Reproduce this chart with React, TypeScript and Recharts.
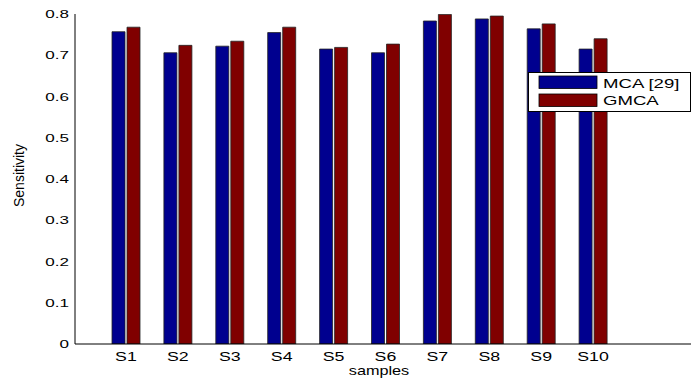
import React from 'react';
import { BarChart, Bar, XAxis, YAxis, Legend } from 'recharts';

const categories = ['S1', 'S2', 'S3', 'S4', 'S5', 'S6', 'S7', 'S8', 'S9', 'S10'];
const mcaValues = [0.757, 0.706, 0.722, 0.755, 0.715, 0.706, 0.783, 0.788, 0.764, 0.715];
const gmcaValues = [0.768, 0.724, 0.734, 0.768, 0.719, 0.727, 0.799, 0.795, 0.776, 0.740];
const yTicks = [0, 0.1, 0.2, 0.3, 0.4, 0.5, 0.6, 0.7, 0.8];
const seriesNames = ['MCA [29]', 'GMCA'];
const seriesColors = ['#00008F', '#800000'];
const xLabel = 'samples';
const yLabel = 'Sensitivity';

const data = categories.map((name, i) => ({ name, mca: mcaValues[i], gmca: gmcaValues[i] }));

const FONT = '"Liberation Sans", Arial, Helvetica, sans-serif';
const fmtY = (v: number) => (v === 0 ? '0' : v.toFixed(1));

const XTick = (props: any) => {
  const { x, y, payload } = props;
  return (
    <text transform={`translate(${x},${y + 17}) scale(1.42,1)`} textAnchor="middle" fontFamily={FONT} fontSize={12.5} fill="#000">
      {payload.value}
    </text>
  );
};

const YTick = (props: any) => {
  const { x, y, payload } = props;
  return (
    <text transform={`translate(${x - 6},${y + 4}) scale(1.55,1)`} textAnchor="end" fontFamily={FONT} fontSize={11} fill="#000">
      {fmtY(payload.value)}
    </text>
  );
};

const YLabel = (props: any) => {
  const vb = props.viewBox || { x: 0, y: 14, width: 75, height: 330 };
  const cx = vb.x + 24;
  const cy = vb.y + vb.height / 2 - 3.5;
  return (
    <text transform={`translate(${cx},${cy}) rotate(-90)`} textAnchor="middle" fontFamily={FONT} fontSize={14} fill="#000">
      {yLabel}
    </text>
  );
};

const XLabel = (props: any) => {
  const vb = props.viewBox || { x: 75, y: 344, width: 616, height: 36 };
  const cx = vb.x + vb.width / 2 - 4;
  const cy = vb.y + 31;
  return (
    <text transform={`translate(${cx},${cy}) scale(1.3,1)`} textAnchor="middle" fontFamily={FONT} fontSize={12.5} fill="#000">
      {xLabel}
    </text>
  );
};

const LegendBox = (props: any) => {
  const payload = [...(props.payload || [])].sort(
    (a: any, b: any) => seriesNames.indexOf(a.value) - seriesNames.indexOf(b.value)
  );
  return (
    <svg width={163} height={40} style={{ display: 'block' }}>
      <rect x={0.5} y={0.5} width={162} height={39} fill="#fff" stroke="#000" strokeWidth={1} />
      {payload.map((p: any, i: number) => (
        <g key={i}>
          <rect x={11} y={4 + i * 18} width={58} height={12.5} fill={p.color} stroke="#000" strokeWidth={0.8} />
          <text transform={`translate(75,${15.7 + i * 17.5}) scale(1.55,1)`} fontFamily={FONT} fontSize={12} fill="#000">
            {p.value}
          </text>
        </g>
      ))}
    </svg>
  );
};

const pad = { left: 25, right: 72 };

export default function App() {
  return (
    <div style={{ width: 694, height: 380, background: '#fff' }}>
      <style>{'body{margin:0;overflow:hidden;background:#fff}'}</style>
      <BarChart
        width={694}
        height={380}
        data={data}
        margin={{ top: 14, right: 3, bottom: 0, left: 0 }}
        barSize={13}
        barGap={2}
      >
        <XAxis
          dataKey="name"
          xAxisId="b"
          height={36}
          interval={0}
          tickLine={false}
          tickSize={0}
          tickMargin={0}
          padding={pad}
          axisLine={{ stroke: '#000', strokeWidth: 1 }}
          tick={<XTick />}
          label={<XLabel />}
        />
        <YAxis
          yAxisId="l"
          width={75}
          type="number"
          domain={[0, 0.8]}
          ticks={yTicks}
          allowDataOverflow
          tickLine={false}
          tickSize={0}
          tickMargin={0}
          axisLine={{ stroke: '#000', strokeWidth: 1 }}
          tick={<YTick />}
          label={<YLabel />}
        />
        <XAxis
          dataKey="name"
          xAxisId="bm"
          orientation="bottom"
          mirror
          height={0}
          interval={0}
          tick={false}
          tickSize={4}
          tickLine={{ stroke: '#000' }}
          axisLine={false}
          padding={pad}
        />
        <XAxis
          dataKey="name"
          xAxisId="tm"
          orientation="top"
          mirror
          height={0}
          interval={0}
          tick={false}
          tickSize={4}
          tickLine={{ stroke: '#000' }}
          axisLine={{ stroke: '#000', strokeWidth: 1 }}
          padding={pad}
        />
        <YAxis
          yAxisId="lm"
          orientation="left"
          mirror
          width={0}
          type="number"
          domain={[0, 0.8]}
          ticks={yTicks}
          tick={false}
          tickSize={5}
          tickLine={{ stroke: '#000' }}
          axisLine={false}
        />
        <YAxis
          yAxisId="rm"
          orientation="right"
          mirror
          width={0}
          type="number"
          domain={[0, 0.8]}
          ticks={yTicks}
          tick={false}
          tickSize={3}
          tickLine={{ stroke: '#000' }}
          axisLine={false}
        />
        <Legend
          layout="vertical"
          align="center"
          verticalAlign="middle"
          width={163}
          wrapperStyle={{ left: 528, top: 72, width: 163, height: 40 }}
          content={<LegendBox />}
        />
        <Bar
          dataKey="mca"
          name={seriesNames[0]}
          xAxisId="b"
          yAxisId="l"
          fill={seriesColors[0]}
          stroke="#222"
          strokeWidth={0.8}
          isAnimationActive={false}
        />
        <Bar
          dataKey="gmca"
          name={seriesNames[1]}
          xAxisId="b"
          yAxisId="l"
          fill={seriesColors[1]}
          stroke="#222"
          strokeWidth={0.8}
          isAnimationActive={false}
        />
      </BarChart>
    </div>
  );
}
